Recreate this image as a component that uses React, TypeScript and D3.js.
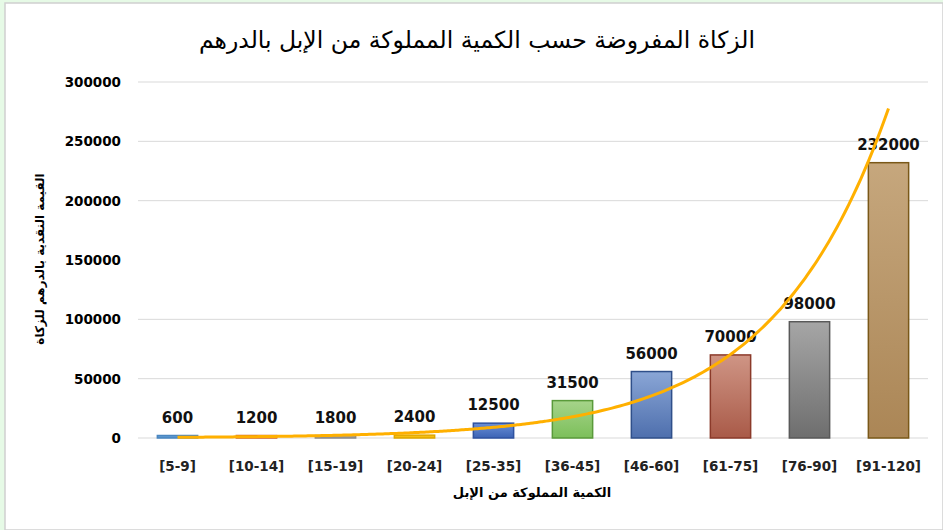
import React from "react";
import * as d3 from "d3";

const categories = ["[5-9]", "[10-14]", "[15-19]", "[20-24]", "[25-35]", "[36-45]", "[46-60]", "[61-75]", "[76-90]", "[91-120]"];
const values = [600, 1200, 1800, 2400, 12500, 31500, 56000, 70000, 98000, 232000];
const yTicks = [0, 50000, 100000, 150000, 200000, 250000, 300000];
const gridTicks = [0, 50000, 100000, 200000, 250000, 300000];
const barTop = ["#6aa3d8", "#f08a45", "#b0b0b0", "#ffc820", "#6a8fd6", "#a6d48a", "#8aa6d6", "#cf9585", "#a6a6a6", "#c6a77d"];
const barBottom = ["#4f8fcb", "#e0702a", "#969696", "#f0b400", "#3c63b5", "#7cbf5a", "#4e6fad", "#a95a48", "#6e6e6e", "#ab8656"];
const barStroke = ["#4a86c0", "#d0652a", "#8c8c8c", "#e0a800", "#2f52a0", "#5a9a3a", "#2f4f8a", "#8b3a2a", "#595959", "#7a5818"];

const title = "الزكاة المفروضة حسب الكمية المملوكة من الإبل بالدرهم";
const xTitle = "الكمية المملوكة من الإبل";
const yTitle = "القيمة النقدية بالدرهم للزكاة";

export default function App() {
  const W = 943, H = 530;
  const left = 138, right = 928, top = 82, bottom = 438;
  const x = d3.scaleBand<string>().domain(categories).range([left, right]).paddingInner(0.49).paddingOuter(0.245);
  const y = d3.scaleLinear().domain([0, 300000]).range([bottom, top]);

  // Exponential trendline (least squares on log values)
  const n = values.length;
  const xs = values.map((_, i) => i + 1);
  const ls = values.map((v) => Math.log(v));
  const mx = d3.mean(xs)!;
  const ml = d3.mean(ls)!;
  const b = d3.sum(xs.map((xi, i) => (xi - mx) * (ls[i] - ml))) / d3.sum(xs.map((xi) => (xi - mx) ** 2));
  const a = Math.exp(ml - b * mx);
  const xc = (i: number) => x(categories[0])! + x.bandwidth() / 2 + (i - 1) * x.step();
  const pts: [number, number][] = d3.range(1, n + 0.0001, 0.05).map((t) => [xc(t), y(a * Math.exp(b * t))]);
  const line = d3.line<[number, number]>().x((d) => d[0]).y((d) => d[1]).curve(d3.curveMonotoneX);

  const font = "'DejaVu Sans', sans-serif";
  const lab = "'DejaVu Sans', sans-serif";

  return (
    <svg width={W} height={H} style={{ position: "absolute", left: 0, top: 0 }}>
      <defs>
        {categories.map((c, i) => (
          <linearGradient key={c} id={`g${i}`} x1="0" y1="0" x2="0" y2="1">
            <stop offset="0" stopColor={barTop[i]} />
            <stop offset="1" stopColor={barBottom[i]} />
          </linearGradient>
        ))}
      </defs>
      <rect x={0} y={0} width={W} height={H} fill="#e6fae6" />
      <rect x={5} y={3} width={W - 5} height={H - 3} fill="#ffffff" stroke="#d0d0d0" strokeWidth={1.5} />
      <text x={477} y={48} textAnchor="middle" fontFamily={font} fontSize={23.5} fill="#000" direction="rtl">{title}</text>
      {gridTicks.map((t) => (
        <line key={t} x1={left} x2={right} y1={y(t)} y2={y(t)} stroke="#d9d9d9" strokeWidth={1} />
      ))}
      {yTicks.map((t) => (
        <text key={t} x={121} y={y(t) + 5} textAnchor="end" fontFamily={lab} fontWeight="bold" fontSize={13.5} fill="#000">{t}</text>
      ))}
      {categories.map((c, i) => {
        const bx = x(c)!;
        const by = y(values[i]);
        const h = Math.max(bottom - by, 2.5);
        return (
          <g key={c}>
            <rect x={bx} y={bottom - h} width={x.bandwidth()} height={h} fill={`url(#g${i})`} stroke={barStroke[i]} strokeWidth={1.5} />
            <text x={bx + x.bandwidth() / 2} y={bottom - h - 13} textAnchor="middle" fontFamily={lab} fontWeight="bold" fontSize={15} fill="#111">{values[i]}</text>
            <text x={bx + x.bandwidth() / 2} y={471} textAnchor="middle" fontFamily={lab} fontWeight="bold" fontSize={13.5} fill="#222">{c}</text>
          </g>
        );
      })}
      <path d={line(pts) || ""} fill="none" stroke="#ffb000" strokeWidth={3} />
      <text x={532} y={497} textAnchor="middle" fontFamily={font} fontWeight="bold" fontSize={13} fill="#000" direction="rtl">{xTitle}</text>
      <text transform={`translate(44,259) rotate(-90)`} textAnchor="middle" fontFamily={font} fontWeight="bold" fontSize={12} fill="#000" direction="rtl">{yTitle}</text>
    </svg>
  );
}
